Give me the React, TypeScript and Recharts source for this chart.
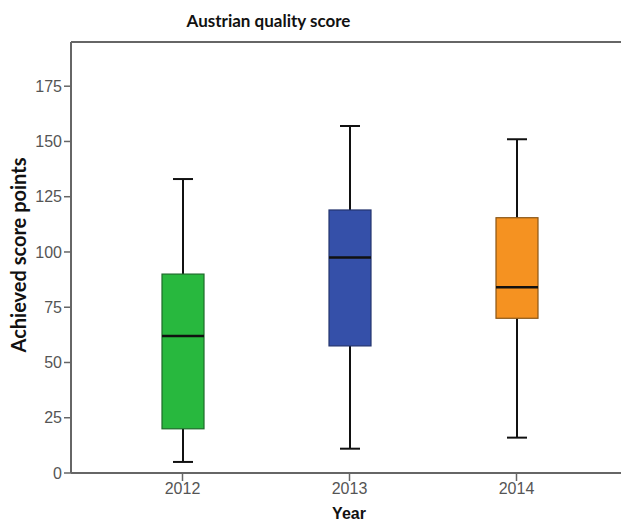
import { ComposedChart, Bar, XAxis, YAxis, ReferenceLine } from "recharts";

const years = ["2012", "2013", "2014"];
const minimum = [5, 11, 16];
const lowerQuartile = [20, 57.5, 70];
const median = [62, 97.5, 84];
const upperQuartile = [90, 119, 115.5];
const maximum = [133, 157, 151];
const yTicks = [0, 25, 50, 75, 100, 125, 150, 175];

const boxColors = ["#28b83e", "#3550a9", "#f59221"];
const boxEdges = ["#1d6b2a", "#24346e", "#8a5515"];

const data = years.map((year, i) => ({
  year,
  range: [minimum[i], maximum[i]],
  min: minimum[i],
  q1: lowerQuartile[i],
  med: median[i],
  q3: upperQuartile[i],
  max: maximum[i],
}));

// box + whiskers drawn from the range bar's own pixel extent
function BoxShape(props: any) {
  const { x, y, width, height, payload, index } = props;
  const { min, q1, med, q3, max } = payload;
  const top = Math.min(y, y + height);
  const h = Math.abs(height);
  const toY = (v: number) => top + ((max - v) / (max - min)) * h;
  const cx = x + width / 2;
  const cap = 10;
  return (
    <g>
      <line x1={cx} x2={cx} y1={toY(max)} y2={toY(q3)} stroke="#111" strokeWidth={2} />
      <line x1={cx} x2={cx} y1={toY(q1)} y2={toY(min)} stroke="#111" strokeWidth={2} />
      <line x1={cx - cap} x2={cx + cap} y1={toY(max)} y2={toY(max)} stroke="#111" strokeWidth={2} />
      <line x1={cx - cap} x2={cx + cap} y1={toY(min)} y2={toY(min)} stroke="#111" strokeWidth={2} />
      <rect
        x={x}
        y={toY(q3)}
        width={width}
        height={toY(q1) - toY(q3)}
        fill={boxColors[index % boxColors.length]}
        stroke={boxEdges[index % boxEdges.length]}
        strokeWidth={1.2}
      />
      <line x1={x} x2={x + width} y1={toY(med)} y2={toY(med)} stroke="#111" strokeWidth={2.5} />
    </g>
  );
}

const textStyle = {
  position: "absolute" as const,
  whiteSpace: "nowrap" as const,
  fontWeight: 700,
  color: "#111",
};

export default function App() {
  return (
    <div
      style={{
        position: "absolute",
        left: 0,
        top: 0,
        width: 621,
        height: 523,
        overflow: "hidden",
        background: "#fff",
      }}
    >
      <div
        style={{
          ...textStyle,
          left: 0,
          top: 10,
          width: 537,
          textAlign: "center",
          fontFamily: "Lato",
          fontSize: 17,
        }}
      >
        Austrian quality score
      </div>
      <div
        style={{
          ...textStyle,
          left: 18,
          top: 255,
          transform: "translate(-50%, -50%) rotate(-90deg)",
          fontFamily: "Lato",
          fontSize: 20,
        }}
      >
        Achieved score points
      </div>
      <div
        style={{
          ...textStyle,
          left: 349,
          top: 505,
          transform: "translateX(-50%)",
          fontFamily: "Liberation Sans",
          fontSize: 16,
        }}
      >
        Year
      </div>
      <ComposedChart
        width={621}
        height={523}
        data={data}
        margin={{ top: 42, right: -7, bottom: 0, left: 0 }}
      >
        <XAxis
          dataKey="year"
          padding={{ left: 28, right: 28 }}
          height={50}
          tickSize={8}
          axisLine={{ stroke: "#666", strokeWidth: 2 }}
          tickLine={{ stroke: "#666", strokeWidth: 1.5 }}
          tick={{ fill: "#555", fontSize: 16, fontFamily: "Liberation Sans" }}
        />
        <YAxis
          width={71}
          domain={[0, 195]}
          ticks={yTicks}
          tickSize={7}
          axisLine={{ stroke: "#666", strokeWidth: 2 }}
          tickLine={{ stroke: "#666", strokeWidth: 1.5 }}
          tick={{ fill: "#555", fontSize: 16, fontFamily: "Liberation Sans" }}
        />
        <ReferenceLine y={195} stroke="#666" strokeWidth={2} />
        <Bar dataKey="range" barSize={42} shape={<BoxShape />} isAnimationActive={false} />
      </ComposedChart>
    </div>
  );
}
